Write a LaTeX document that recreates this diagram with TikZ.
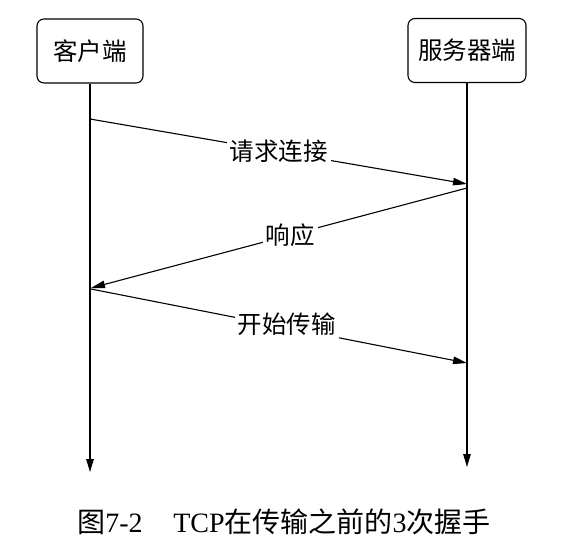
\documentclass[tikz,border=0pt]{standalone}
\usepackage{fontspec}
\setmainfont{Liberation Serif}
\newfontfamily\cjk{Noto Sans CJK SC}
\usetikzlibrary{arrows.meta}
\tikzset{
  actor/.style={draw, line width=1.1pt, rounded corners=7pt, minimum width=106pt, minimum height=64pt, font=\cjk\fontsize{24.5}{28}\selectfont, inner sep=0pt},
  life/.style={line width=1.1pt, -{Triangle[length=13pt,width=7.5pt]}},
  msg/.style={line width=1.1pt, -{Triangle[length=14pt,width=7.5pt]}},
  lbl/.style={fill=white, font=\cjk\fontsize{24.5}{28}\selectfont, inner sep=3pt},
  captext/.style={font=\fontsize{28}{32}\selectfont}
}
\begin{document}
\begin{tikzpicture}[x=1pt,y=-1pt]
\useasboundingbox (0,0) rectangle (571,558);
\node[actor] (client) at (90,51) {客户端};
\node[actor, minimum width=118pt] (server) at (467,50.5) {服务器端};
\coordinate (cend) at (90,472);
\coordinate (send) at (467,467);
\coordinate (c1) at (90,119);
\coordinate (s1) at (467,184);
\coordinate (s2) at (467,188);
\coordinate (c2) at (91,288);
\coordinate (c3) at (91,289);
\coordinate (s3) at (467,363);
\draw[life] (client.south) -- (cend);
\draw[life] (server.south) -- (send);
\draw[msg] (c1) -- node[lbl] (l1) {请求连接} (s1);
\draw[msg] (s2) -- node[lbl, pos=0.47] (l2) {响应} (c2);
\draw[msg] (c3) -- node[lbl, pos=0.52, yshift=3pt] (l3) {开始传输} (s3);
\node[captext] (caption) at (284,522) {{\cjk 图}7-2\hspace{1.1em}TCP{\cjk 在传输之前的}3{\cjk 次握手}};
\end{tikzpicture}
\end{document}
